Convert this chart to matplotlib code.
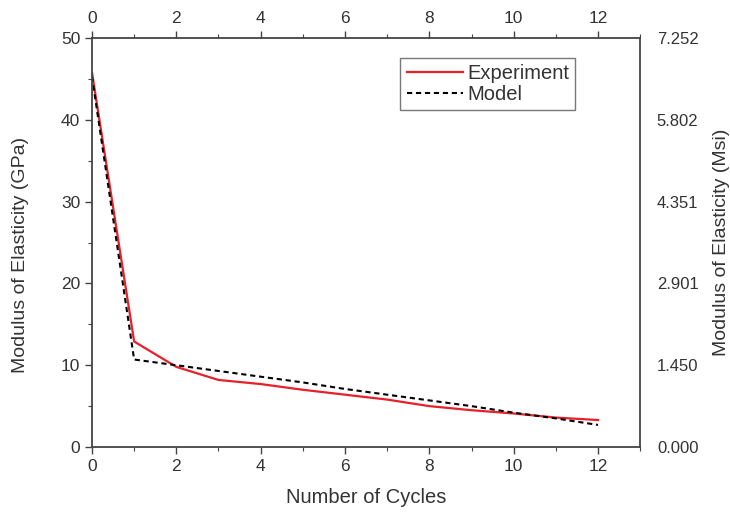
import matplotlib
matplotlib.use("Agg")
import matplotlib.pyplot as plt
import numpy as np
from matplotlib.ticker import MultipleLocator

plt.rcParams["font.family"] = ["Liberation Sans", "DejaVu Sans"]

# data
cycles = [0, 1, 2, 3, 4, 5, 6, 7, 8, 9, 10, 11, 12]
experiment = [45.8, 12.9, 9.8, 8.2, 7.7, 7.0, 6.4, 5.8, 5.0, 4.5, 4.1, 3.6, 3.3]
model = [45.3, 10.7, 10.0, 9.3, 8.6, 7.9, 7.1, 6.4, 5.7, 5.0, 4.2, 3.5, 2.7]
gpa_per_msi = 6.894757

spine_col = "#444444"
text_col = "#333333"

fig = plt.figure(figsize=(7.3, 5.15), dpi=100)
ax = fig.add_axes([0.126, 0.132, 0.751, 0.794])

ax.plot(cycles, experiment, color="#e8202a", lw=1.6, label="Experiment")
ax.plot(cycles, model, color="black", lw=1.5, ls=(0, (2.5, 1.8)), label="Model")

ax.set_xlim(0, 13)
ax.set_ylim(0, 50)
ax.xaxis.set_major_locator(MultipleLocator(2))
ax.xaxis.set_minor_locator(MultipleLocator(1))
ax.yaxis.set_major_locator(MultipleLocator(10))
ax.yaxis.set_minor_locator(MultipleLocator(5))
ax.set_xticks(np.arange(0, 13, 2))

ax.tick_params(which="both", direction="out", top=True, labeltop=True,
               right=False, colors=spine_col, labelcolor=text_col, labelsize=12.5)
ax.tick_params(which="major", length=5, width=1)
ax.tick_params(which="minor", length=3, width=0.8)
for s in ax.spines.values():
    s.set_color(spine_col)
    s.set_linewidth(1.3)

ax.set_xlabel("Number of Cycles", fontsize=14.5, color=text_col, labelpad=10)
ax.set_ylabel("Modulus of Elasticity (GPa)", fontsize=14, color=text_col, labelpad=17)
ax.yaxis.set_label_coords(-0.115, 0.47)

# right axis in Msi
ax2 = ax.twinx()
ax2.set_ylim(0, 50 / gpa_per_msi)
rt = np.arange(0, 51, 10) / gpa_per_msi
ax2.set_yticks(rt)
ax2.set_yticklabels([f"{v:.3f}" for v in rt])
ax2.tick_params(axis="y", length=0, pad=12, labelcolor=text_col, labelsize=12)
for s in ax2.spines.values():
    s.set_visible(False)
ax2.set_ylabel("Modulus of Elasticity (Msi)", fontsize=14, color=text_col, labelpad=10)

leg = ax.legend(loc="upper right", bbox_to_anchor=(0.881, 0.951), fontsize=14.5,
                fancybox=False, edgecolor="#777777", framealpha=1,
                handlelength=2.8, handletextpad=0.2, borderpad=0.3,
                labelspacing=0.1, labelcolor=text_col, borderaxespad=0)
leg.get_frame().set_linewidth(1.0)

fig.savefig("out.png", dpi=100)
